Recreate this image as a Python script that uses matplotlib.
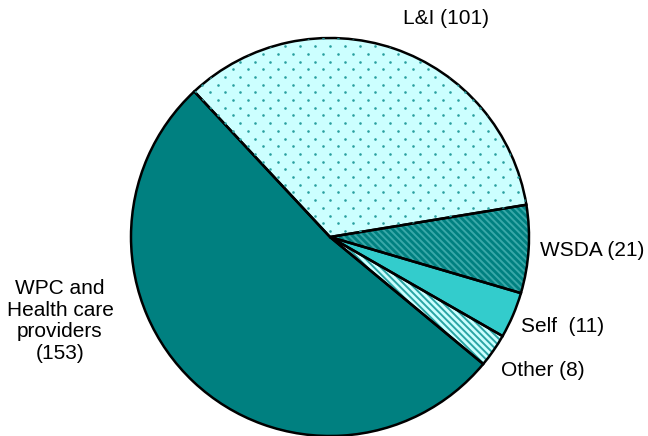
import matplotlib
matplotlib.use("Agg")
import matplotlib.pyplot as plt
import numpy as np

categories = ["L&I", "WSDA", "Self", "Other", "WPC and\nHealth care\nproviders"]
values = [101, 21, 11, 8, 153]
label_texts = ["L&I (101)", "WSDA (21)", "Self  (11)", "Other (8)",
               "WPC and\nHealth care\nproviders\n(153)"]

faces = ["#CCFFFF", "#008080", "#33CCCC", "#CCFFFF", "#008080"]
hatch_cols = ["#CCFFFF", "#3AA8A8", "#33CCCC", "#2AA5A5", "#008080"]
hatches = [None, "\\\\\\\\\\", None, "\\\\\\\\\\", None]

plt.rcParams["font.family"] = ["Liberation Sans", "DejaVu Sans"]
plt.rcParams["hatch.linewidth"] = 1.4

W, H = 648, 436
cx, cy, R = 330, 237, 199
fig = plt.figure(figsize=(W / 100, H / 100), dpi=100)
ax = fig.add_axes([0, 0, 1, 1])

wedges, _ = ax.pie(values, startangle=133, counterclock=False, radius=1,
                   colors=faces, wedgeprops=dict(linewidth=0))
for w, hc, h in zip(wedges, hatch_cols, hatches):
    w.set_edgecolor(hc)
    if h:
        w.set_hatch(h)

ax.pie(values, startangle=133, counterclock=False, radius=1,
       wedgeprops=dict(fill=False, edgecolor="black", linewidth=1.8))

ax.set_xlim(-cx / R, (W - cx) / R)
ax.set_ylim(-(H - cy) / R, cy / R)
ax.set_aspect("equal")
ax.axis("off")

# dotted texture for the L&I slice
sx, sy = 15.0, 7.7
pts = []
for j, yy in enumerate(np.arange(0, H, sy)):
    off = 0 if j % 2 == 0 else sx / 2
    for xx in np.arange(off, W, sx):
        pts.append(((xx - cx) / R, (cy - yy) / R))
pts = np.array(pts)
dots = ax.scatter(pts[:, 0], pts[:, 1], s=3.5, color="#2A9F9F",
                  linewidths=0, zorder=1.5)
dots.set_clip_path(wedges[0])

def px(x, y):
    return ((x - cx) / R, (cy - y) / R)

label_pos = [(446, 18), (592, 251), (563, 326), (543, 370), (60, 321)]
for t, (x, y) in zip(label_texts, label_pos):
    ax.text(*px(x, y), t, ha="center", va="center", fontsize=15,
            linespacing=1.18)

fig.savefig("out.png", dpi=100)
